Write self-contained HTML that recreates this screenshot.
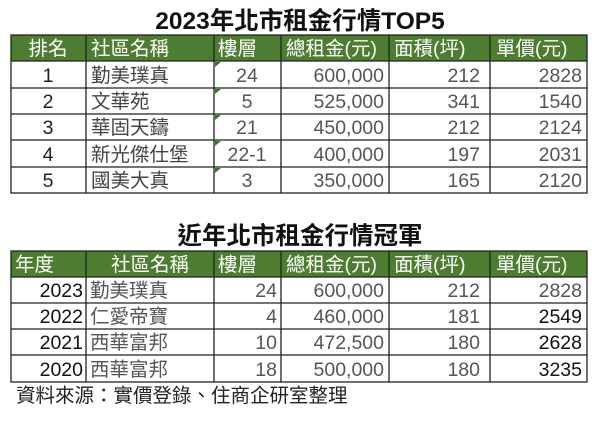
<!DOCTYPE html>
<html><head><meta charset="utf-8"><style>
body{margin:0;background:#fff;width:600px;height:418px;overflow:hidden}
svg text{font-family:"Liberation Sans","Noto Sans CJK TC",sans-serif}
</style></head><body>
<svg width="600" height="418" viewBox="0 0 600 418" xmlns="http://www.w3.org/2000/svg">
<g font-size="19.5">
<text x="300" y="29" text-anchor="middle" font-size="24.5" font-weight="bold" fill="#111">2023年北市租金行情TOP5</text>
<rect x="11" y="35" width="576" height="26" fill="#4d7d31"/>
<g fill="#fff">
<text x="48" y="55" text-anchor="middle">排名</text>
<text x="91" y="55">社區名稱</text>
<text x="218" y="55">樓層</text>
<text x="286" y="55">總租金(元)</text>
<text x="394" y="55">面積(坪)</text>
<text x="496" y="55">單價(元)</text>
</g>
<g fill="none" stroke="#222" stroke-width="1.3">
<rect x="11" y="35" width="576" height="158"/>
<line x1="11" y1="61" x2="587" y2="61"/><line x1="11" y1="88" x2="587" y2="88"/><line x1="11" y1="114" x2="587" y2="114"/><line x1="11" y1="140" x2="587" y2="140"/><line x1="11" y1="167" x2="587" y2="167"/>
<line x1="86" y1="35" x2="86" y2="193"/><line x1="214" y1="35" x2="214" y2="193"/><line x1="281" y1="35" x2="281" y2="193"/><line x1="389" y1="35" x2="389" y2="193"/><line x1="490" y1="35" x2="490" y2="193"/>
</g>
<g fill="#2e7d1e">
<polygon points="215,62 221,62 215,67"/><polygon points="215,89 221,89 215,94"/><polygon points="215,115 221,115 215,120"/><polygon points="215,141 221,141 215,146"/><polygon points="215,168 221,168 215,173"/>
</g>
<g fill="#444">
<text x="48" y="82" text-anchor="middle" fill="#222">1</text><text x="91" y="82">勤美璞真</text><text x="247" y="82" text-anchor="middle" fill="#555">24</text><text x="384" y="82" text-anchor="end" fill="#555">600,000</text><text x="480" y="82" text-anchor="end" fill="#555">212</text><text x="582" y="82" text-anchor="end" fill="#555">2828</text>
<text x="48" y="108" text-anchor="middle" fill="#222">2</text><text x="91" y="108">文華苑</text><text x="247" y="108" text-anchor="middle" fill="#555">5</text><text x="384" y="108" text-anchor="end" fill="#555">525,000</text><text x="480" y="108" text-anchor="end" fill="#555">341</text><text x="582" y="108" text-anchor="end" fill="#555">1540</text>
<text x="48" y="134" text-anchor="middle" fill="#222">3</text><text x="91" y="134">華固天鑄</text><text x="247" y="134" text-anchor="middle" fill="#555">21</text><text x="384" y="134" text-anchor="end" fill="#555">450,000</text><text x="480" y="134" text-anchor="end" fill="#555">212</text><text x="582" y="134" text-anchor="end" fill="#555">2124</text>
<text x="48" y="161" text-anchor="middle" fill="#222">4</text><text x="91" y="161">新光傑仕堡</text><text x="247" y="161" text-anchor="middle" fill="#555">22-1</text><text x="384" y="161" text-anchor="end" fill="#555">400,000</text><text x="480" y="161" text-anchor="end" fill="#555">197</text><text x="582" y="161" text-anchor="end" fill="#555">2031</text>
<text x="48" y="187" text-anchor="middle" fill="#222">5</text><text x="91" y="187">國美大真</text><text x="247" y="187" text-anchor="middle" fill="#555">3</text><text x="384" y="187" text-anchor="end" fill="#555">350,000</text><text x="480" y="187" text-anchor="end" fill="#555">165</text><text x="582" y="187" text-anchor="end" fill="#555">2120</text>
</g>

<text x="300" y="244" text-anchor="middle" font-size="24.5" font-weight="bold" fill="#111">近年北市租金行情冠軍</text>
<rect x="11" y="251" width="576" height="26" fill="#4d7d31"/>
<g fill="#fff">
<text x="15" y="271">年度</text>
<text x="150" y="271" text-anchor="middle">社區名稱</text>
<text x="218" y="271">樓層</text>
<text x="286" y="271">總租金(元)</text>
<text x="394" y="271">面積(坪)</text>
<text x="496" y="271">單價(元)</text>
</g>
<g fill="none" stroke="#222" stroke-width="1.3">
<rect x="11" y="251" width="576" height="131"/>
<line x1="11" y1="277" x2="587" y2="277"/><line x1="11" y1="303" x2="587" y2="303"/><line x1="11" y1="329" x2="587" y2="329"/><line x1="11" y1="355" x2="587" y2="355"/>
<line x1="86" y1="251" x2="86" y2="382"/><line x1="214" y1="251" x2="214" y2="382"/><line x1="281" y1="251" x2="281" y2="382"/><line x1="389" y1="251" x2="389" y2="382"/><line x1="490" y1="251" x2="490" y2="382"/>
</g>
<g fill="#555">
<text x="83" y="297" text-anchor="end" fill="#111">2023</text><text x="90" y="297">勤美璞真</text><text x="277" y="297" text-anchor="end">24</text><text x="384" y="297" text-anchor="end">600,000</text><text x="480" y="297" text-anchor="end">212</text><text x="582" y="297" text-anchor="end">2828</text>
<text x="83" y="323" text-anchor="end" fill="#111">2022</text><text x="90" y="323">仁愛帝寶</text><text x="277" y="323" text-anchor="end">4</text><text x="384" y="323" text-anchor="end">460,000</text><text x="480" y="323" text-anchor="end">181</text><text x="582" y="323" text-anchor="end" fill="#111">2549</text>
<text x="83" y="349" text-anchor="end" fill="#111">2021</text><text x="90" y="349">西華富邦</text><text x="277" y="349" text-anchor="end">10</text><text x="384" y="349" text-anchor="end">472,500</text><text x="480" y="349" text-anchor="end">180</text><text x="582" y="349" text-anchor="end" fill="#111">2628</text>
<text x="83" y="376" text-anchor="end" fill="#111">2020</text><text x="90" y="376">西華富邦</text><text x="277" y="376" text-anchor="end">18</text><text x="384" y="376" text-anchor="end">500,000</text><text x="480" y="376" text-anchor="end">180</text><text x="582" y="376" text-anchor="end" fill="#111">3235</text>
</g>
<text x="16" y="402" fill="#222">資料來源：實價登錄、住商企研室整理</text>
</g>
</svg>
</body></html>
